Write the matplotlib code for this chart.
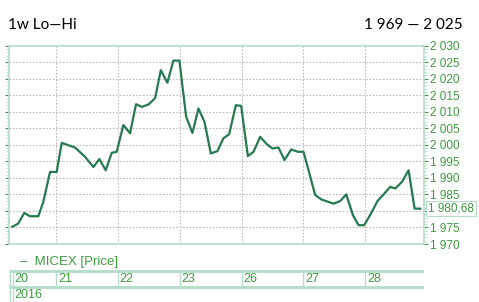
import matplotlib
matplotlib.use('Agg')
from matplotlib import pyplot as plt
from matplotlib.ticker import MultipleLocator, FuncFormatter

# MICEX price, one week, x = trading day index (day 20 starts at 0)
t = [0.293, 0.390, 0.487, 0.579, 0.714, 0.794, 0.903, 1.011, 1.092, 1.199,
     1.307, 1.469, 1.604, 1.701, 1.804, 1.901, 1.982, 2.089, 2.197, 2.294,
     2.387, 2.494, 2.602, 2.694, 2.801, 2.898, 2.995, 3.104, 3.206, 3.303,
     3.400, 3.503, 3.610, 3.707, 3.799, 3.908, 3.994, 4.102, 4.193, 4.301,
     4.409, 4.500, 4.597, 4.694, 4.803, 4.911, 5.002, 5.083, 5.191, 5.288,
     5.487, 5.595, 5.693, 5.801, 5.892, 5.984, 6.092, 6.199, 6.296, 6.405,
     6.485, 6.594, 6.701, 6.798, 6.890]
price = [1975.2, 1976.2, 1979.4, 1978.4, 1978.4, 1982.7, 1991.8, 1991.8, 2000.6, 1999.9,
         1999.2, 1996.4, 1993.3, 1995.7, 1992.3, 1997.6, 1997.9, 2006.0, 2003.5, 2012.3,
         2011.5, 2012.2, 2014.1, 2022.6, 2018.8, 2025.5, 2025.5, 2008.5, 2003.6, 2011.0,
         2007.0, 1997.4, 1998.1, 2002.0, 2003.2, 2012.0, 2011.8, 1996.6, 1997.9, 2002.4,
         2000.2, 1998.9, 1999.2, 1995.4, 1998.6, 1997.9, 1997.9, 1992.3, 1984.8, 1983.5,
         1982.2, 1983.0, 1985.0, 1978.7, 1975.7, 1975.7, 1979.2, 1983.0, 1985.0, 1987.3,
         1986.8, 1988.8, 1992.3, 1980.7, 1980.68]
day_labels = ['20', '21', '22', '23', '26', '27', '28']
year_label = '2016'
last_value = '1 980,68'
lo_hi = '1 969 — 2 025'

line_c = '#267a50'
text_c = '#3c9a3c'
frame_c = '#b4dcc8'
grid_c = '#bdbdbd'
plt.rcParams['font.family'] = 'Liberation Sans'

fig = plt.figure(figsize=(4.79, 3.02), dpi=100)
ax = fig.add_axes([9 / 479, 58 / 302, 415 / 479, 198.3 / 302])
x0, x1 = 0.24, 6.95

ax.plot(t, price, color=line_c, lw=1.6, zorder=3)
ax.set_xlim(x0, x1)
ax.set_ylim(1970, 2030)


def fmt(v, p):
    if round(v) == 1980:  # hidden behind the last-value box
        return ''
    return f'{int(round(v)):,}'.replace(',', ' ')


ax.yaxis.tick_right()
ax.yaxis.set_major_locator(MultipleLocator(5))
ax.yaxis.set_minor_locator(MultipleLocator(1))
ax.yaxis.set_major_formatter(FuncFormatter(fmt))
ax.tick_params(axis='y', which='major', colors=text_c, labelcolor=text_c, length=3,
               width=0.8, pad=1, labelsize=8.5, left=True)
ax.tick_params(axis='y', which='minor', colors=frame_c, length=2, left=True, right=True)
ax.set_xticks(range(1, 7))
ax.tick_params(axis='x', length=0, labelbottom=False)

# dotted grid
for v in ax.get_yticks():
    if 1970 < v < 2030:
        ax.axhline(v, color=grid_c, ls=(0, (1.5, 1.5)), lw=0.8, zorder=1)
for d in range(1, 7):
    ax.axvline(d, color=grid_c, ls=(0, (1.5, 1.5)), lw=0.8, zorder=1)

for s in ax.spines.values():
    s.set_color(frame_c)
    s.set_linewidth(1.2)

ax.annotate(last_value, xy=(1.0, 1980.68), xycoords=('axes fraction', 'data'),
            xytext=(3, 0), textcoords='offset points', va='center', ha='left',
            color=text_c, fontsize=8.5,
            bbox=dict(boxstyle='square,pad=0.15', fc='white', ec=frame_c, lw=0.8))

fig.text(8 / 479, 1 - 25 / 302, '1w Lo—Hi', fontsize=11, family='Lato', va='center')
fig.text(463 / 479, 1 - 25 / 302, lo_hi, fontsize=11, family='Lato', va='center', ha='right')

# legend and day bar
fig.text(20 / 479, 1 - 262 / 302, '–  MICEX [Price]', fontsize=9.5, color=text_c, va='center')
bx = fig.add_axes([9 / 479, 0, 415 / 479, 40 / 302])
bx.set_xlim(x0, x1)
bx.set_ylim(302, 262)
bx.axis('off')
bx.hlines([271, 287], x0, x1, color=frame_c, lw=2)
bx.vlines([x0 + 0.02, x0 + 0.06], 271, 302, color=frame_c, lw=1)
bx.vlines(range(1, 7), 271, 287, color=frame_c, lw=1)
for i, lab in enumerate(day_labels):
    bx.text(max(i, x0 + 0.06) + 0.03, 279.5, lab, fontsize=9, color=text_c, va='center')
bx.text(x0 + 0.09, 295.5, year_label, fontsize=9, color=text_c, va='center')

fig.savefig('out.png', dpi=100)
